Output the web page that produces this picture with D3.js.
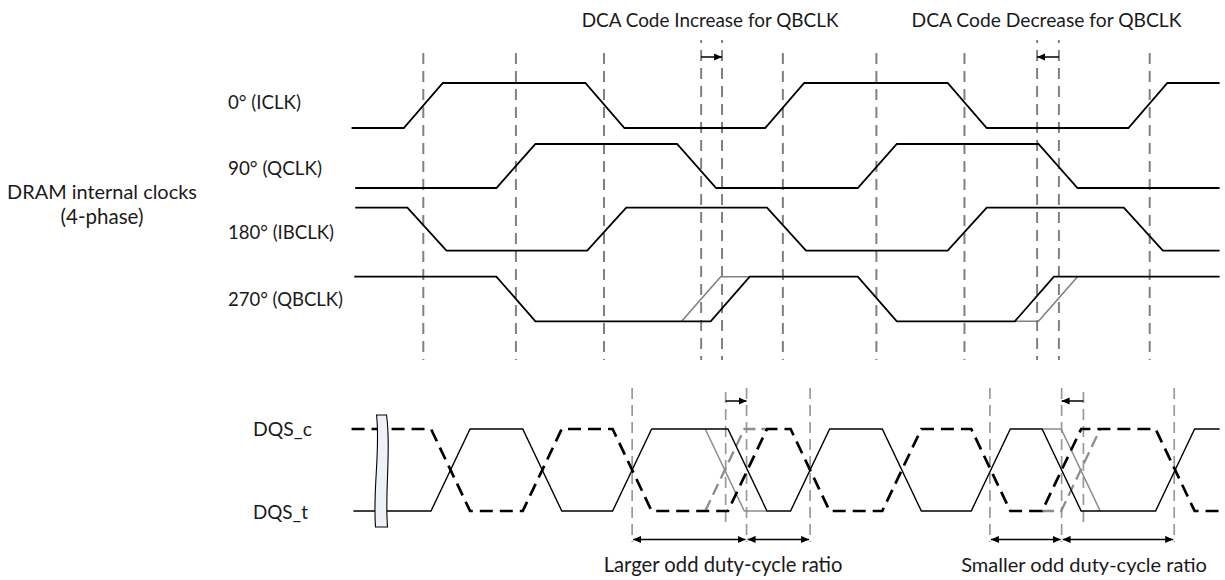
<!DOCTYPE html>
<html><head><meta charset="utf-8">
<script src="https://cdn.jsdelivr.net/npm/d3@7"></script>
<style>body{margin:0;background:#fff}</style>
</head><body>
<svg id="chart" width="1225" height="580"></svg>
<script>
// ---------------- data (time in UI = quarter of the clock period) ----------------
const clockNames      = ["0° (ICLK)", "90° (QCLK)", "180° (IBCLK)", "270° (QBCLK)"];
const clockStartLevel = [0, 0, 1, 1];
const clockStartUI    = [0.21, 0.25, 0.25, 0.24];
const iclkEdges       = [1.00, 3.00, 4.98, 6.99, 8.98];
const qclkEdges       = [2.02, 4.01, 6.00, 7.99];
const ibclkEdges      = [1.04, 3.02, 5.00, 6.99, 8.93];
const qbclkEdges      = [2.02, 4.38, 6.00, 7.73];   // after DCA code change
const qbclkOrigEdges  = [2.02, 4.06, 6.00, 7.99];   // before (grey)
const dqsNames        = ["DQS_c", "DQS_t"];
const dqsStartUI      = [0.21, 0.23];
const dqsEdges        = [1.30, 2.31, 3.30, 4.57, 5.26, 6.27, 7.25, 8.03, 9.28];
const dqsOrigEdges    = [1.30, 2.31, 3.30, 4.32, 5.26, 6.27, 7.25, 8.24, 9.28];
const clockRefLines   = [1.00, 2.02, 2.99, 4.96, 5.99, 6.96, 9.00];
const clockShiftLines = [4.06, 4.29, 7.76, 8.00];
const clockShiftArrows= [[4.06, 4.29], [8.00, 7.76]];
const dqsRefLines     = [3.30, 4.56, 5.26, 7.24, 8.03, 9.27];
const dqsOrigLines    = [4.33, 8.27];
const dqsShiftArrows  = [[4.33, 4.56], [8.27, 8.03]];
const dutySpans       = [[[3.30, 4.56], [4.56, 5.26]], [[7.24, 8.03], [8.03, 9.27]]];
const dutyLabels      = ["Larger odd duty-cycle ratio", "Smaller odd duty-cycle ratio"];
const dcaLabels       = ["DCA Code Increase for QBCLK", "DCA Code Decrease for QBCLK"];
const groupLabel      = ["DRAM internal clocks", "(4-phase)"];
const transitionUI    = 0.43;
const endUI           = 9.77;
const breakUI         = 0.54;

// ---------------- layout ----------------
const svg = d3.select("#chart");
const x = d3.scaleLinear().domain([0, 10]).range([332.5, 1240.5]);
const clockLanes = [
  {hi: 83,    lo: 128,   label: 102.5},
  {hi: 144,   lo: 188,   label: 168},
  {hi: 207.7, lo: 250.7, label: 233},
  {hi: 276.7, lo: 321.3, label: 300}];
const dqsLane = {hi: 429, lo: 511};
const FONT = "Lato, 'Open Sans', sans-serif";
const INK = "#1a1a1a";

const defs = svg.append("defs");
defs.append("marker").attr("id", "ah").attr("viewBox", "0 0 10 10")
  .attr("refX", 10).attr("refY", 5).attr("markerWidth", 8).attr("markerHeight", 8)
  .attr("markerUnits", "userSpaceOnUse").attr("orient", "auto-start-reverse")
  .append("path").attr("d", "M0,0.5 L10,5 L0,9.5 Z").attr("fill", "#000");

function wave(startLevel, edges, t0, t1, w) {
  const pts = [[t0, startLevel]]; let L = startLevel;
  edges.forEach(e => { pts.push([e - w / 2, L]); L = 1 - L; pts.push([e + w / 2, L]); });
  pts.push([t1, L]); return pts;
}
function shiftPieces(startLevel, adj, orig, w) {
  const out = [];
  adj.forEach((a, i) => {
    const o = orig[i]; const L = (startLevel + i) % 2;
    if (Math.abs(a - o) < 1e-6) return;
    if (o < a) out.push([[o - w / 2, L], [o + w / 2, 1 - L], [a + w / 2, 1 - L]]);
    else out.push([[a - w / 2, L], [o - w / 2, L], [o + w / 2, 1 - L]]);
  });
  return out;
}
function fitText(t, target) {
  t.attr("font-size", 20);
  const w = t.node().getComputedTextLength();
  t.attr("font-size", 20 * target / w);
}
function label(txt, px, py, anchor, target) {
  const t = svg.append("text").attr("x", px).attr("y", py).attr("dy", "0.35em")
    .attr("text-anchor", anchor).attr("font-family", FONT).attr("fill", INK).text(txt);
  fitText(t, target);
  return t;
}

// ---------------- reference dashed lines ----------------
const gUp = svg.append("g").attr("stroke", "#808080").attr("stroke-width", 2)
  .attr("stroke-dasharray", "11,7");
gUp.selectAll("line.r").data(clockRefLines).join("line").attr("class", "r")
  .attr("x1", d => x(d)).attr("x2", d => x(d)).attr("y1", 53).attr("y2", 360);
gUp.selectAll("line.s").data(clockShiftLines).join("line").attr("class", "s")
  .attr("x1", d => x(d)).attr("x2", d => x(d)).attr("y1", 40).attr("y2", 360)
  .attr("stroke-dashoffset", 8);

const gLo = svg.append("g").attr("stroke", "#9a9a9a").attr("stroke-width", 1.7)
  .attr("stroke-dasharray", "11,6");
gLo.selectAll("line.r").data(dqsRefLines).join("line").attr("class", "r")
  .attr("x1", d => x(d)).attr("x2", d => x(d)).attr("y1", 388).attr("y2", 542);
gLo.selectAll("line.o").data(dqsOrigLines).join("line").attr("class", "o")
  .attr("x1", d => x(d)).attr("x2", d => x(d)).attr("y1", 392).attr("y2", 526);

// ---------------- clock waveforms ----------------
const clockEdgeSets = [iclkEdges, qclkEdges, ibclkEdges, qbclkEdges];
clockEdgeSets.forEach((edges, i) => {
  const lane = clockLanes[i];
  const y = d3.scaleLinear().domain([0, 1]).range([lane.lo, lane.hi]);
  const line = d3.line().x(d => x(d[0])).y(d => y(d[1]));
  if (i === 3) {
    shiftPieces(clockStartLevel[i], qbclkEdges, qbclkOrigEdges, transitionUI).forEach(p =>
      svg.append("path").attr("d", line(p)).attr("fill", "none")
        .attr("stroke", "#808080").attr("stroke-width", 1.6));
  }
  svg.append("path").attr("d", line(wave(clockStartLevel[i], edges, clockStartUI[i], endUI, transitionUI)))
    .attr("fill", "none").attr("stroke", "#000").attr("stroke-width", 1.8)
    .attr("stroke-linejoin", "miter");
  label(clockNames[i], 228, lane.label, "start", [73, 94, 106, 115][i]);
});

// ---------------- DQS waveforms ----------------
const yD = d3.scaleLinear().domain([0, 1]).range([dqsLane.lo, dqsLane.hi]);
const lineD = d3.line().x(d => x(d[0])).y(d => yD(d[1]));
// grey (original) pieces
shiftPieces(0, dqsEdges, dqsOrigEdges, transitionUI).forEach(p =>
  svg.append("path").attr("d", lineD(p)).attr("fill", "none")
    .attr("stroke", "#8c8c8c").attr("stroke-width", 1.5));
shiftPieces(1, dqsEdges, dqsOrigEdges, transitionUI).forEach(p =>
  svg.append("path").attr("d", lineD(p)).attr("fill", "none")
    .attr("stroke", "#8c8c8c").attr("stroke-width", 2.3).attr("stroke-dasharray", "12,6"));
// DQS_t solid, DQS_c dashed
svg.append("path").attr("d", lineD(wave(0, dqsEdges, dqsStartUI[1], endUI, transitionUI)))
  .attr("fill", "none").attr("stroke", "#000").attr("stroke-width", 1.4);
svg.append("path").attr("d", lineD(wave(1, dqsEdges, dqsStartUI[0], endUI, transitionUI)))
  .attr("fill", "none").attr("stroke", "#000").attr("stroke-width", 2.7)
  .attr("stroke-dasharray", "13,7");
label(dqsNames[0], 253, dqsLane.hi, "start", 59);
label(dqsNames[1], 253, dqsLane.lo + 1.5, "start", 55);

// break symbol
const bx = x(breakUI);
svg.append("path")
  .attr("d", `M${bx - 5},415 C${bx - 1},450 ${bx - 9},490 ${bx - 6},527 L${bx + 6},527 C${bx + 3},490 ${bx + 10},450 ${bx + 5},415 Z`)
  .attr("fill", "#eef1f8").attr("stroke", "#000").attr("stroke-width", 1.1);

// ---------------- arrows ----------------
const gA = svg.append("g").attr("stroke", "#000").attr("stroke-width", 1.5);
clockShiftArrows.forEach(a => gA.append("line")
  .attr("x1", x(a[0])).attr("x2", x(a[1])).attr("y1", 57).attr("y2", 57)
  .attr("marker-end", "url(#ah)"));
dqsShiftArrows.forEach(a => gA.append("line")
  .attr("x1", x(a[0])).attr("x2", x(a[1])).attr("y1", 401).attr("y2", 401)
  .attr("marker-end", "url(#ah)"));
dutySpans.forEach(pair => pair.forEach(s => gA.append("line")
  .attr("x1", x(s[0]) + 1).attr("x2", x(s[1]) - 1).attr("y1", 539.5).attr("y2", 539.5)
  .attr("marker-start", "url(#ah)").attr("marker-end", "url(#ah)")));

// ---------------- texts ----------------
dcaLabels.forEach((t, i) => {
  const a = clockShiftArrows[i];
  label(t, (x(a[0]) + x(a[1])) / 2 - 1.5, 20, "middle", [257, 270][i]);
});
dutySpans.forEach((pair, i) => {
  label(dutyLabels[i], (x(pair[0][0]) + x(pair[1][1])) / 2 + 2, 565, "middle", [239, 246][i]);
});
label(groupLabel[0], 102, 192, "middle", 190);
label(groupLabel[1], 102, 217, "middle", 83);
</script>
</body></html>
